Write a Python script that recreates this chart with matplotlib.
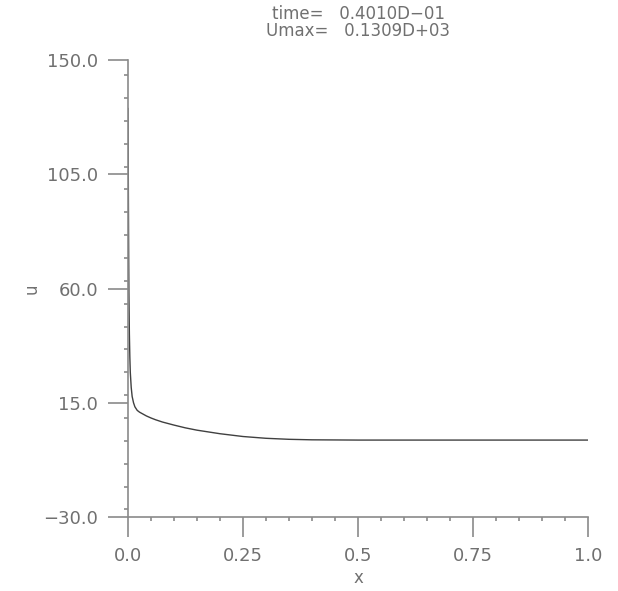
import matplotlib
matplotlib.use("Agg")
import matplotlib.pyplot as plt
from matplotlib.ticker import MultipleLocator, FixedLocator

# data
x_vals = [0.0, 0.0005, 0.001, 0.0015, 0.002, 0.003, 0.004, 0.005, 0.007, 0.009,
          0.012, 0.015, 0.02, 0.025, 0.03, 0.04, 0.05, 0.06, 0.075, 0.1,
          0.125, 0.15, 0.2, 0.25, 0.3, 0.35, 0.4, 0.5, 0.6, 0.75, 1.0]
u_vals = [130.9, 110.0, 90.0, 72.0, 58.0, 42.0, 33.0, 27.0, 21.0, 17.5,
          15.0, 13.4, 12.0, 11.3, 10.8, 9.8, 9.0, 8.3, 7.4, 6.2,
          5.1, 4.2, 2.8, 1.7, 1.0, 0.6, 0.4, 0.3, 0.3, 0.3, 0.3]

x_ticks = [0.0, 0.25, 0.5, 0.75, 1.0]
x_ticklabels = ["0.0", "0.25", "0.5", "0.75", "1.0"]
y_ticks = [-30.0, 15.0, 60.0, 105.0, 150.0]
y_ticklabels = ["\u221230.0", "15.0", "60.0", "105.0", "150.0"]
title_lines = ["time=   0.4010D\u221201", "Umax=   0.1309D+03"]

axis_col = "#8a8a8a"
text_col = "#707070"

fig = plt.figure(figsize=(6.18, 5.91), dpi=100)
ax = fig.add_axes([128/618, 1-517/591, (588-128)/618, (517-60)/591])

ax.plot(x_vals, u_vals, color="#404040", lw=1.0)

ax.set_xlim(0, 1.0)
ax.set_ylim(-30, 150)
for s in ["top", "right"]:
    ax.spines[s].set_visible(False)
for s in ["left", "bottom"]:
    ax.spines[s].set_color(axis_col)
    ax.spines[s].set_linewidth(1.2)

ax.xaxis.set_major_locator(FixedLocator(x_ticks))
ax.set_xticklabels(x_ticklabels)
ax.xaxis.set_minor_locator(MultipleLocator(0.05))
ax.yaxis.set_major_locator(FixedLocator(y_ticks))
ax.set_yticklabels(y_ticklabels)
ax.yaxis.set_minor_locator(MultipleLocator(9))

ax.tick_params(which="major", length=14.5, width=1.2, color=axis_col,
               labelcolor=text_col, labelsize=13, pad=7, direction="out")
ax.tick_params(which="minor", length=3, width=1.2, color=axis_col, direction="out")

ax.set_xlabel("x", color=text_col, fontsize=12, va="center")
ax.xaxis.set_label_coords(0.5, -(578 - 517) / 457)
ax.set_ylabel("u", color=text_col, fontsize=12, va="center")
ax.yaxis.set_label_coords((32 - 128) / 460, 0.5)

fig.text(358/618, 1-14/591, title_lines[0], ha="center", va="center",
         color=text_col, fontsize=12)
fig.text(358/618, 1-31/591, title_lines[1], ha="center", va="center",
         color=text_col, fontsize=12)

fig.savefig("out.png", dpi=100, facecolor="white")
